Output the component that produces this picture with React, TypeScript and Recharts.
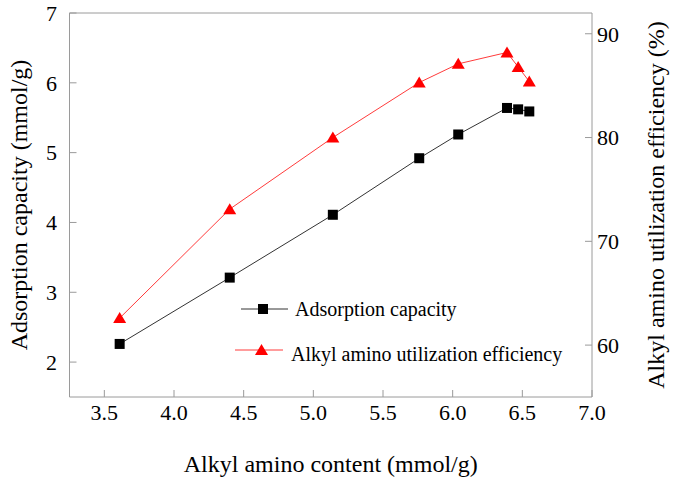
import { LineChart, Line, XAxis, YAxis, ReferenceLine, Label } from 'recharts';

// values
const alkylContent = [3.61, 4.4, 5.14, 5.76, 6.04, 6.39, 6.47, 6.55];
const adsorptionCapacity = [2.26, 3.21, 4.11, 4.92, 5.26, 5.64, 5.62, 5.59];
const utilizationEfficiency = [62.6, 73.1, 80.0, 85.3, 87.1, 88.2, 86.8, 85.4];

const xTicks = [3.5, 4.0, 4.5, 5.0, 5.5, 6.0, 6.5, 7.0];
const leftTicks = [2, 3, 4, 5, 6, 7];
const rightTicks = [60, 70, 80, 90];

const data = alkylContent.map((x, i) => ({
  x,
  capacity: adsorptionCapacity[i],
  efficiency: utilizationEfficiency[i],
}));

const FONT = '"Liberation Serif", "Times New Roman", serif';
const AXIS = '#9a9a9a';
const RED = '#ff0000';

const tickStyle = { fontSize: 22, fontFamily: FONT, fill: '#000' };
const titleStyle = { fontSize: 24, fontFamily: FONT, fill: '#000' };

const squareDot = (p: any) => {
  const { cx, cy, index } = p;
  if (cx == null || cy == null) return <g key={index} />;
  return <rect key={index} x={cx - 5} y={cy - 5} width={10} height={10} fill="#000" />;
};

const triangleDot = (p: any) => {
  const { cx, cy, index } = p;
  if (cx == null || cy == null) return <g key={index} />;
  return (
    <polygon
      key={index}
      points={`${cx},${cy - 6} ${cx + 6.5},${cy + 5} ${cx - 6.5},${cy + 5}`}
      fill={RED}
    />
  );
};

function LegendBox() {
  return (
    <svg width={360} height={80} style={{ position: 'absolute', left: 230, top: 290 }}>
      <line x1={11} x2={58} y1={19} y2={19} stroke="#333" strokeWidth={1} />
      <rect x={28} y={14} width={10} height={10} fill="#000" />
      <text x={65} y={26} style={{ fontSize: 20, fontFamily: FONT }}>
        Adsorption capacity
      </text>
      <line x1={5} x2={53} y1={60} y2={60} stroke="#ff3b3b" strokeWidth={1} />
      <polygon points="31.5,54 38,65 25,65" fill={RED} />
      <text x={61} y={71} style={{ fontSize: 20, fontFamily: FONT }}>
        Alkyl amino utilization efficiency
      </text>
    </svg>
  );
}

export default function App() {
  return (
    <div style={{ position: 'absolute', left: 0, top: 0, width: 675, height: 477, background: '#fff' }}>
      <LineChart width={675} height={477} data={data} margin={{ top: 13, right: 0, bottom: 0, left: 0 }}>
        <XAxis
          type="number"
          dataKey="x"
          domain={[3.25, 7]}
          ticks={xTicks}
          tickFormatter={(v: number) => v.toFixed(1)}
          height={80}
          stroke={AXIS}
          tickSize={-7}
          tickMargin={14}
          tick={tickStyle}
          allowDataOverflow
        >
          <Label value="Alkyl amino content (mmol/g)" position="center" dy={26} style={titleStyle} />
        </XAxis>
        <YAxis
          yAxisId="left"
          type="number"
          domain={[1.5, 7]}
          ticks={leftTicks}
          width={69.5}
          stroke={AXIS}
          tickSize={-7}
          tickMargin={19.5}
          tick={tickStyle}
          allowDataOverflow
        >
          <Label
            value="Adsorption capacity (mmol/g)"
            angle={-90}
            position="center"
            dx={-16}
            style={titleStyle}
          />
        </YAxis>
        <YAxis
          yAxisId="right"
          orientation="right"
          type="number"
          domain={[55, 92]}
          ticks={rightTicks}
          width={83}
          stroke={AXIS}
          tickSize={-7}
          tickMargin={12}
          tick={tickStyle}
          allowDataOverflow
        >
          <Label
            value="Alkyl amino utilization efficiency (%)"
            angle={-90}
            position="center"
            dx={22}
            style={titleStyle}
          />
        </YAxis>
        <ReferenceLine yAxisId="left" y={7} stroke={AXIS} />
        <Line
          yAxisId="left"
          dataKey="capacity"
          stroke="#333"
          strokeWidth={1}
          dot={squareDot}
          isAnimationActive={false}
        />
        <Line
          yAxisId="right"
          dataKey="efficiency"
          stroke="#ff3b3b"
          strokeWidth={1}
          dot={triangleDot}
          isAnimationActive={false}
        />
      </LineChart>
      <LegendBox />
    </div>
  );
}
